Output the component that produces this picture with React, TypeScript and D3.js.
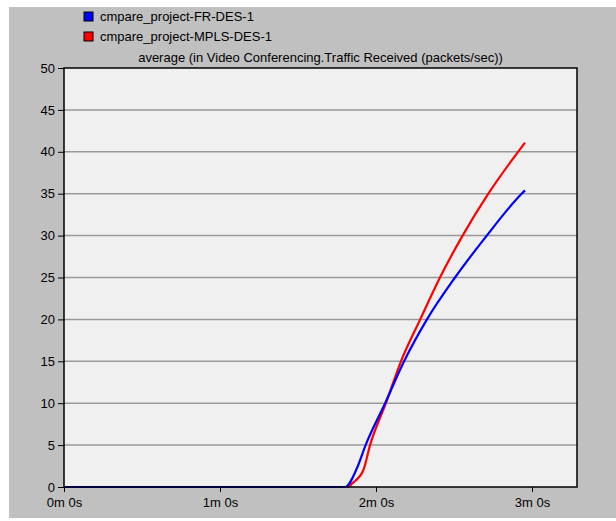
import * as d3 from 'd3';
import {useEffect, useRef} from 'react';

// series, time in seconds
const seriesNames = ['cmpare_project-FR-DES-1', 'cmpare_project-MPLS-DES-1'];
const seriesColors = ['#0000ff', '#ff0000'];

const frTimes = [0, 108.1, 112.6, 116.0, 123.5, 130.8, 139.6, 150.4, 162.6, 176.0, 177.3];
const frValues = [0, 0, 2.2, 5, 10, 15, 20, 25, 30, 35, 35.4];

const mplsTimes = [0, 109.3, 110.7, 115.1, 117.7, 123.8, 129.6, 137.0, 144.6, 153.3, 163.2, 177.3];
const mplsValues = [0, 0, 0.4, 2.0, 5, 10, 15, 20, 25, 30, 35, 41.1];

const yTicks = [0, 5, 10, 15, 20, 25, 30, 35, 40, 45, 50];
const xTicks = [0, 60, 120, 180];
const xTickLabels = ['0m 0s', '1m 0s', '2m 0s', '3m 0s'];

const title = 'average (in Video Conferencing.Traffic Received (packets/sec))';

export default function App() {
    const svgRef = useRef<SVGSVGElement>(null);

    const width = 616;
    const height = 521;
    const plot = {left: 64, right: 577, top: 68, bottom: 487};

    useEffect(() => {
        const svg = d3.select(svgRef.current);
        svg.selectAll('*').remove();

        const x = d3.scaleLinear().domain([0, 197.3]).range([plot.left, plot.right]);
        const y = d3.scaleLinear().domain([0, 50]).range([plot.bottom, plot.top]);

        const font = '"Liberation Sans", Arial, sans-serif';

        // grey panel
        svg.append('rect')
            .attr('x', 9).attr('y', 7)
            .attr('width', width - 9).attr('height', 511)
            .attr('fill', '#c0c0c0');

        // plot background
        svg.append('rect')
            .attr('x', plot.left).attr('y', plot.top)
            .attr('width', plot.right - plot.left).attr('height', plot.bottom - plot.top)
            .attr('fill', '#f0f0f0');

        // grid
        svg.append('g').selectAll('line')
            .data(yTicks.filter(d => d > 0 && d < 50))
            .enter().append('line')
            .attr('x1', plot.left).attr('x2', plot.right)
            .attr('y1', d => y(d)).attr('y2', d => y(d))
            .attr('stroke', '#999').attr('stroke-width', 1.5);

        // y axis
        const yAxis = svg.append('g')
            .attr('transform', `translate(${plot.left},0)`)
            .call(d3.axisLeft(y).tickValues(yTicks).tickSize(6).tickPadding(3));
        yAxis.select('.domain').remove();
        yAxis.selectAll('text').attr('font-family', font).attr('font-size', 13).attr('fill', '#000');
        yAxis.selectAll('line').attr('stroke', '#000');

        // x axis
        const xAxis = svg.append('g')
            .attr('transform', `translate(0,${plot.bottom})`)
            .call(d3.axisBottom(x).tickValues(xTicks).tickSize(5).tickPadding(6)
                .tickFormat((d, i) => xTickLabels[i]));
        xAxis.select('.domain').remove();
        xAxis.selectAll('text').attr('font-family', font).attr('font-size', 13).attr('fill', '#000');
        xAxis.selectAll('line').attr('stroke', '#000');

        // lines
        const line = d3.line<[number, number]>()
            .x(d => x(d[0]))
            .y(d => y(d[1]))
            .curve(d3.curveMonotoneX);

        const frData = frTimes.map((t, i) => [t, frValues[i]] as [number, number]);
        const mplsData = mplsTimes.map((t, i) => [t, mplsValues[i]] as [number, number]);

        svg.append('path')
            .attr('d', line(mplsData))
            .attr('fill', 'none')
            .attr('stroke', seriesColors[1])
            .attr('stroke-width', 2.2);

        svg.append('path')
            .attr('d', line(frData))
            .attr('fill', 'none')
            .attr('stroke', seriesColors[0])
            .attr('stroke-width', 2.2);

        // plot border
        svg.append('rect')
            .attr('x', plot.left).attr('y', plot.top)
            .attr('width', plot.right - plot.left).attr('height', plot.bottom - plot.top)
            .attr('fill', 'none')
            .attr('stroke', '#000').attr('stroke-width', 1.5);

        // title
        svg.append('text')
            .attr('x', (plot.left + plot.right) / 2)
            .attr('y', 62)
            .attr('text-anchor', 'middle')
            .attr('font-family', font).attr('font-size', 13)
            .text(title);

        // legend
        const legend = svg.append('g').selectAll('g')
            .data(seriesNames)
            .enter().append('g')
            .attr('transform', (d, i) => `translate(84,${12 + i * 20})`);

        legend.append('rect')
            .attr('width', 9).attr('height', 9)
            .attr('fill', (d, i) => seriesColors[i])
            .attr('stroke', '#000').attr('stroke-width', 1);

        legend.append('text')
            .attr('x', 16).attr('y', 9)
            .attr('font-family', font).attr('font-size', 13)
            .text(d => d);
    }, []);

    return (
        <svg ref={svgRef} width={width} height={height}
             style={{position: 'absolute', left: 0, top: 0, background: '#fff'}} />
    );
}
